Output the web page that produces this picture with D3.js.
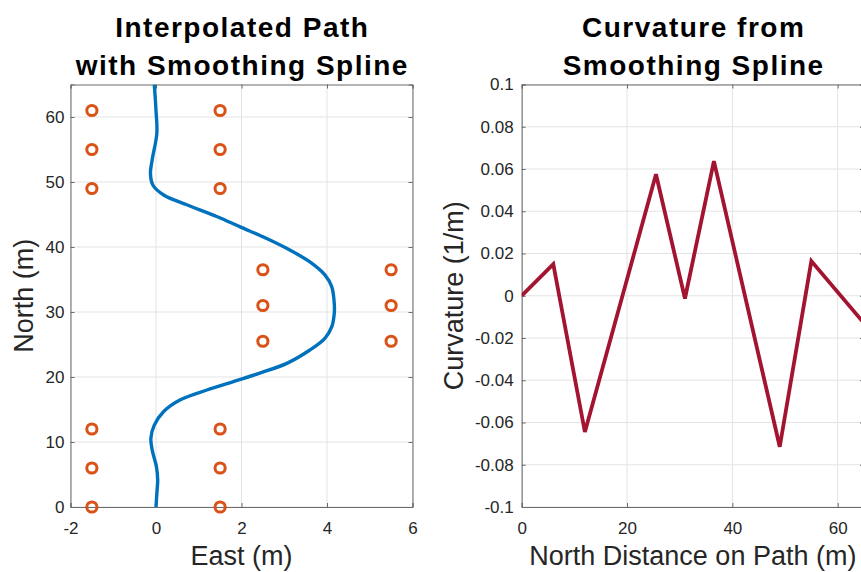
<!DOCTYPE html>
<html>
<head>
<meta charset="utf-8">
<script src="https://cdn.jsdelivr.net/npm/d3@7"></script>
<style>
  html, body { margin: 0; padding: 0; background: #fff; }
  svg { display: block; }
  text { font-family: "Liberation Sans", Arial, Helvetica, sans-serif; }
</style>
</head>
<body>
<svg id="chart" width="861" height="572"></svg>
<script>
// Lane waypoints (cone positions)
const coneEast  = [-1.5, 1.5, -1.5, 1.5, -1.5, 1.5, 2.5, 5.5, 2.5, 5.5, 2.5, 5.5, -1.5, 1.5, -1.5, 1.5, -1.5, 1.5];
const coneNorth = [0, 0, 6, 6, 12, 12, 25.5, 25.5, 31, 31, 36.5, 36.5, 49, 49, 55, 55, 61, 61];

// Smoothed centre-line path
const pathNorth = [0, 2.1, 4.15, 6.2, 8.8, 10.6, 12.6, 14.7, 16.5, 18, 19.3, 20.6, 22.1, 24.15, 25.95, 27.7, 29.8,
                   31.3, 33.9, 35.7, 37.7, 39.5, 41.3, 43.1, 44.7, 46.5, 48, 49.5, 51.3, 53.4, 57.5, 61, 65];
const pathEast  = [0, 0.02, 0.04, 0.01, -0.09, -0.12, -0.04, 0.18, 0.57, 1.19, 1.81, 2.43, 3.06, 3.6, 3.95, 4.11, 4.17,
                   4.17, 4.11, 3.95, 3.6, 3.14, 2.59, 1.97, 1.42, 0.72, 0.18, -0.07, -0.13, -0.09, 0.02, 0.0, -0.04];

// Curvature along the path
const distance  = [0, 6, 12, 25.5, 31, 36.5, 49, 55, 65];
const curvature = [0, 0.015, -0.0645, 0.0575, -0.0013, 0.0637, -0.0715, 0.0164, -0.013];

// Axis ticks
const eastTicks  = [-2, 0, 2, 4, 6];
const northTicks = [0, 10, 20, 30, 40, 50, 60];
const distTicks  = [0, 20, 40, 60];
const curvTicks  = [-0.1, -0.08, -0.06, -0.04, -0.02, 0, 0.02, 0.04, 0.06, 0.08, 0.1];

const svg = d3.select("#chart");
const axisColor = "#262626";
const gridColor = "#e3e3e3";
const boxColor = "#6b6b6b";

const plotTop = 84.5, plotBottom = 507;
const plain = d => String(+(+d).toFixed(2));

function panel(opts) {
  const { x, y, xTicks, yTicks, yLabelGap } = opts;
  const g = svg.append("g");
  const [x0, x1] = x.range();
  const [y0, y1] = y.range();
  const clipId = opts.id + "-clip";
  svg.append("clipPath").attr("id", clipId)
    .append("rect").attr("x", x0).attr("y", y1).attr("width", x1 - x0).attr("height", y0 - y1);

  // grid
  g.selectAll(".gx").data(xTicks).join("line")
    .attr("x1", d => x(d)).attr("x2", d => x(d)).attr("y1", y0).attr("y2", y1)
    .attr("stroke", gridColor).attr("stroke-width", 1);
  g.selectAll(".gy").data(yTicks).join("line")
    .attr("x1", x0).attr("x2", x1).attr("y1", d => y(d)).attr("y2", d => y(d))
    .attr("stroke", gridColor).attr("stroke-width", 1);

  // box with inward ticks on all four sides
  const ax = d3.axisBottom(x).tickValues(xTicks).tickSize(-4).tickPadding(10).tickFormat(plain);
  const gx = g.append("g").attr("transform", `translate(0,${y0})`).call(ax);
  const axTop = d3.axisTop(x).tickValues(xTicks).tickSize(-4).tickFormat("");
  const gxt = g.append("g").attr("transform", `translate(0,${y1})`).call(axTop);
  const ay = d3.axisLeft(y).tickValues(yTicks).tickSize(-4).tickPadding(yLabelGap).tickFormat(plain);
  const gy = g.append("g").attr("transform", `translate(${x0},0)`).call(ay);
  const ayr = d3.axisRight(y).tickValues(yTicks).tickSize(-4).tickFormat("");
  const gyr = g.append("g").attr("transform", `translate(${x1},0)`).call(ayr);

  [gx, gxt, gy, gyr].forEach(a => {
    a.select(".domain").attr("stroke", boxColor);
    a.selectAll(".tick line").attr("stroke", boxColor);
    a.selectAll(".tick text").attr("fill", axisColor).style("font-size", "17px")
      .style("font-family", '"Liberation Sans", Arial, sans-serif');
  });
  gx.selectAll(".tick text").attr("dy", "0.71em").attr("y", 15);
  return { g, clipId };
}

// Left panel: interpolated path
const xL = d3.scaleLinear().domain([-2, 6]).range([70.5, 412.5]);
const yL = d3.scaleLinear().domain([0, 65]).range([plotBottom, plotTop]);
const pL = panel({ id: "left", x: xL, y: yL, xTicks: eastTicks, yTicks: northTicks, yLabelGap: 6 });

const pathPts = pathNorth.map((n, i) => [pathEast[i], n]);
pL.g.append("path")
  .datum(pathPts)
  .attr("clip-path", `url(#${pL.clipId})`)
  .attr("fill", "none")
  .attr("stroke", "#0072BD")
  .attr("stroke-width", 3.4)
  .attr("d", d3.line().x(d => xL(d[0])).y(d => yL(d[1])).curve(d3.curveCatmullRom.alpha(0.5)));

pL.g.selectAll(".cone").data(coneEast.map((e, i) => [e, coneNorth[i]])).join("circle")
  .attr("cx", d => xL(d[0])).attr("cy", d => yL(d[1])).attr("r", 5.1)
  .attr("fill", "none").attr("stroke", "#D95319").attr("stroke-width", 3);

// Right panel: curvature
const xR = d3.scaleLinear().domain([0, 65]).range([521.7, 864]);
const yR = d3.scaleLinear().domain([-0.1, 0.1]).range([plotBottom, plotTop]);
const pR = panel({ id: "right", x: xR, y: yR, xTicks: distTicks, yTicks: curvTicks, yLabelGap: 8 });

pR.g.append("path")
  .datum(distance.map((s, i) => [s, curvature[i]]))
  .attr("clip-path", `url(#${pR.clipId})`)
  .attr("fill", "none")
  .attr("stroke", "#A2142F")
  .attr("stroke-width", 3.8)
  .attr("stroke-linejoin", "miter")
  .attr("d", d3.line().x(d => xR(d[0])).y(d => yR(d[1])));

// Titles
function title(cx, lines) {
  const t = svg.append("text").attr("text-anchor", "middle")
    .style("font-size", "28px").style("font-weight", "bold").style("letter-spacing", "1.5px")
    .attr("fill", "#000");
  lines.forEach((s, i) => t.append("tspan").attr("x", cx + 0.8).attr("y", 37 + i * 38).text(s));
}
title((70.5 + 412.5) / 2, ["Interpolated Path", "with Smoothing Spline"]);
title((521.7 + 864) / 2, ["Curvature from", "Smoothing Spline"]);

// Axis labels
function label(x, y, rot, s) {
  svg.append("text").attr("text-anchor", "middle")
    .attr("transform", `translate(${x},${y}) rotate(${rot})`)
    .style("font-size", "27px").attr("fill", axisColor).text(s);
}
label((70.5 + 412.5) / 2, 565, 0, "East (m)");
label((521.7 + 864) / 2, 565, 0, "North Distance on Path (m)");
label(33, (plotTop + plotBottom) / 2, -90, "North (m)");
label(463, (plotTop + plotBottom) / 2, -90, "Curvature (1/m)");
</script>
</body>
</html>
